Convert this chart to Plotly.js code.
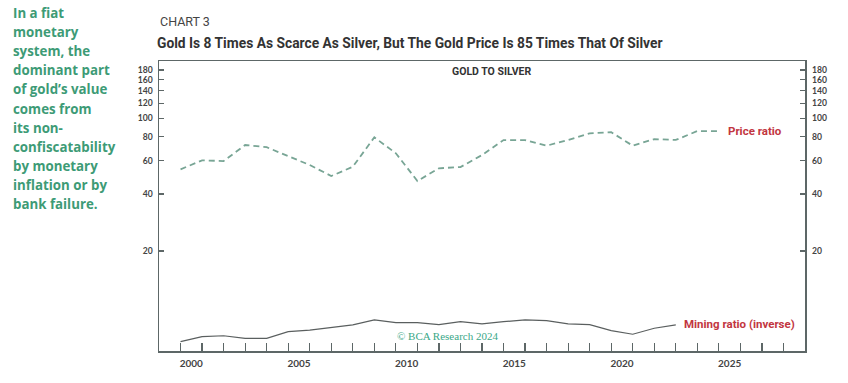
<!DOCTYPE html>
<html>
<head>
<meta charset="utf-8">
<script src="https://cdn.plot.ly/plotly-3.0.1.min.js"></script>
<style>html,body{margin:0;padding:0;background:#fff;}#chart{width:848px;height:383px;}</style>
</head>
<body>
<div id="chart"></div>
<script>
const priceYears = [2000,2001,2002,2003,2004,2005,2006,2007,2008,2009,2010,2011,2012,2013,2014,2015,2016,2017,2018,2019,2020,2021,2022,2023,2024,2025];
const priceRatio = [53.9,60.1,59.6,72.4,70.5,63.5,56.8,49.7,55.6,79.5,65.5,46.8,54.6,55.4,64.1,76.9,76.9,71.8,76.9,83.4,84.6,71.8,77.8,77.0,85.8,85.8];
const miningYears = [2000,2001,2002,2003,2004,2005,2006,2007,2008,2009,2010,2011,2012,2013,2014,2015,2016,2017,2018,2019,2020,2021,2022,2023];
const miningRatio = [6.65,7.07,7.15,6.93,6.93,7.51,7.66,7.88,8.15,8.66,8.38,8.38,8.18,8.48,8.25,8.48,8.66,8.58,8.25,8.18,7.60,7.28,7.83,8.15];
const yTicks = [20,40,60,80,100,120,140,160,180];
const xLabelYears = [2000,2005,2010,2015,2020,2025];
const sideText = ["In a fiat","monetary","system, the","dominant part","of gold\u2019s value","comes from","its non-","confiscatability","by monetary","inflation or by","bank failure."];

const axisColor = '#5d6767';
const yTickFont = {family:'Lato, sans-serif', size:8.6, color:'#444', weight:'bold'};
const xTickFont = {family:'Lato, sans-serif', size:10, color:'#444', weight:'bold'};
const yearTicks = [];
for (let y = 2000; y <= 2028; y++) yearTicks.push(y);

const traces = [
  {x: priceYears, y: priceRatio, type:'scatter', mode:'lines',
   line:{color:'#78a595', width:1.8, dash:'6px,4px'}, hoverinfo:'skip'},
  {x: miningYears, y: miningRatio, type:'scatter', mode:'lines',
   line:{color:'#5a5f5f', width:1.2}, hoverinfo:'skip'}
];

const annotations = [
  {text:'CHART 3', xref:'paper', yref:'paper', x:-0.0015, y:1.135, xanchor:'left', yanchor:'middle',
   showarrow:false, font:{family:'Roboto, sans-serif', size:12.5, color:'#444'}},
  {text:'GOLD TO SILVER', xref:'paper', yref:'paper', x:0.515, y:0.9655, xanchor:'center', yanchor:'middle',
   showarrow:false, font:{family:'Roboto, sans-serif', size:10.5, color:'#333', weight:'bold'}},
  {text:'Price ratio', xref:'x', yref:'y', x:2025.35, y:Math.log10(86), xanchor:'left', yanchor:'middle',
   showarrow:false, font:{family:'Roboto, sans-serif', size:11.5, color:'#c2363f', weight:'bold'}},
  {text:'Mining ratio (inverse)', xref:'x', yref:'y', x:2023.3, y:Math.log10(8.2), xanchor:'left', yanchor:'middle',
   showarrow:false, font:{family:'Roboto, sans-serif', size:11.5, color:'#c2363f', weight:'bold'}},
  {text:'\u00a9 BCA Research 2024', xref:'paper', yref:'paper', x:0.366, y:0.053, xanchor:'left', yanchor:'middle',
   showarrow:false, font:{family:'Liberation Serif, serif', size:11, color:'#3aa888'}}
];
sideText.forEach((t, i) => {
  annotations.push({text:t, xref:'paper', yref:'paper', x:(11-159)/646, y:(351-(13+i*19.1))/290,
    xanchor:'left', yanchor:'middle', showarrow:false,
    font:{family:'Open Sans, sans-serif', size:13.3, color:'#3d9b76', weight:'bold'}});
});

const layout = {
  width:848, height:383,
  margin:{l:159, r:43, t:61, b:32},
  paper_bgcolor:'#fff', plot_bgcolor:'#fff',
  showlegend:false,
  title:{text:'Gold Is 8 Times As Scarce As Silver, But The Gold Price Is 85 Times That Of Silver',
    x:157/848, xanchor:'left', y:1-43/383, yanchor:'middle',
    font:{family:'Roboto, sans-serif', size:13.8, color:'#333', weight:'bold'}},
  xaxis:{range:[1999,2029], tickvals:yearTicks, ticks:'inside', ticklen:8, tickcolor:axisColor, tickwidth:1.2,
    showticklabels:false, showgrid:false, zeroline:false, showline:true, linecolor:axisColor, linewidth:1.5, mirror:true},
  xaxis2:{range:[1999,2029], overlaying:'x', anchor:'y', side:'bottom', tickvals:xLabelYears.map(v=>v+0.5),
    ticktext:xLabelYears.map(String), ticks:'', showgrid:false, zeroline:false, showline:false, tickfont:xTickFont,
    ticklabelstandoff:5},
  yaxis:{type:'log', range:[Math.log10(5.94), Math.log10(200.8)], tickvals:yTicks, ticktext:yTicks.map(String),
    ticks:'inside', ticklen:5, tickcolor:axisColor, tickwidth:1.2, mirror:'ticks', showline:true, linecolor:axisColor, linewidth:1.5,
    showgrid:false, zeroline:false, tickfont:yTickFont, ticklabelstandoff:3},
  yaxis2:{type:'log', range:[Math.log10(5.94), Math.log10(200.8)], overlaying:'y', side:'right', anchor:'x',
    tickvals:yTicks, ticktext:yTicks.map(String), ticks:'', showgrid:false, zeroline:false, showline:false,
    tickfont:yTickFont, ticklabelstandoff:6},
  annotations:annotations
};
traces.push({x:[2000], y:[10], xaxis:'x2', yaxis:'y2', type:'scatter', mode:'markers', marker:{opacity:0}, hoverinfo:'skip'});
Plotly.newPlot('chart', traces, layout, {displayModeBar:false, staticPlot:true});
</script>
</body>
</html>
